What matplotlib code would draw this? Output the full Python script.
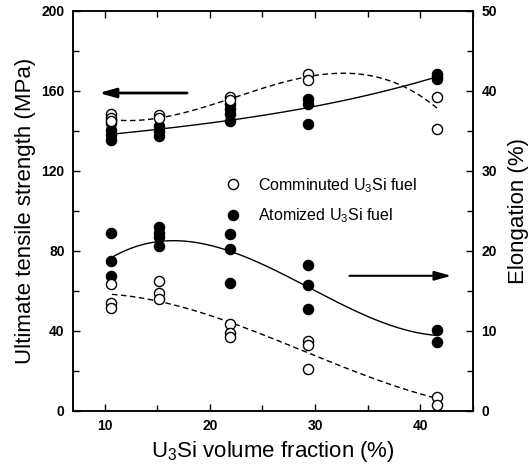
import numpy as np
import matplotlib
matplotlib.use("Agg")
import matplotlib.pyplot as plt
from matplotlib.ticker import MultipleLocator
from matplotlib.lines import Line2D

plt.rcParams['font.family'] = ['Liberation Sans', 'DejaVu Sans']
plt.rcParams['mathtext.default'] = 'regular'

# volume fraction columns (%)
cols = [10.6, 15.2, 21.9, 29.3, 41.6]

# tensile strength (MPa), comminuted (open) / atomized (filled)
uts_comm = [[148.5, 146.5, 145.0], [148.0, 146.5], [157.0, 155.5], [168.5, 165.6], [157.2, 141.2]]
uts_atom = [[144.1, 140.7, 138.2, 135.7], [142.4, 139.9, 137.4], [153.3, 150.8, 148.3, 144.9],
            [155.9, 153.3, 143.6], [168.5, 167.1, 166.0]]

# elongation (%)
el_comm = [[15.9, 13.5, 12.9], [16.2, 14.8, 14.05], [10.9, 9.8, 9.2], [8.8, 8.3, 5.3], [1.7, 0.7]]
el_atom = [[22.3, 18.75, 16.9], [23.0, 22.3, 21.8, 20.6], [22.1, 20.2, 16.0], [18.25, 15.7, 12.8], [10.1, 8.6]]

# trend curves
uts_comm_fit_x = [10.7, 15.3, 22.0, 29.4, 32.4, 38.5, 41.6]
uts_comm_fit_y = [145.8, 146.3, 156.4, 167.1, 169.3, 161.4, 151.7]
uts_atom_fit_x = [10.7, 15.3, 22.0, 29.4, 41.6]
uts_atom_fit_y = [138.2, 141.5, 144.9, 152.0, 167.1]
el_atom_fit_x = [10.7, 16.3, 22.0, 29.4, 36.2, 41.6]
el_atom_fit_y = [19.2, 21.3, 20.0, 15.3, 11.3, 9.4]
el_comm_fit_x = [10.7, 15.3, 22.0, 29.4, 36.2, 41.6]
el_comm_fit_y = [14.4, 14.05, 10.9, 6.9, 4.2, 1.4]


def flat(groups):
    xs, ys = [], []
    for x, g in zip(cols, groups):
        xs += [x] * len(g)
        ys += g
    return xs, ys


def smooth(fx, fy):
    p = np.polyfit(fx, fy, 3)
    xx = np.linspace(fx[0], fx[-1], 200)
    return xx, np.polyval(p, xx)


fig = plt.figure(figsize=(5.32, 4.67), dpi=100)
ax = fig.add_axes([73 / 532, 56 / 467, 400 / 532, 400 / 467])
ax2 = ax.twinx()

ms = 7.3
open_kw = dict(ls='none', marker='o', ms=ms, mfc='white', mec='black', mew=1.0, zorder=5)
fill_kw = dict(ls='none', marker='o', ms=ms, mfc='black', mec='black', mew=1.0, zorder=5)
dash = (0, (4, 2.5))

# tensile strength on left axis
x, y = smooth(uts_comm_fit_x, uts_comm_fit_y)
ax.plot(x, y, color='black', lw=1.0, ls=dash, zorder=3)
x, y = smooth(uts_atom_fit_x, uts_atom_fit_y)
ax.plot(x, y, color='black', lw=1.0, zorder=3)
xs, ys = flat(uts_atom)
ax.plot(xs, ys, **fill_kw)
xs, ys = flat(uts_comm)
ax.plot(xs, ys, **open_kw)

# elongation on right axis
x, y = smooth(el_atom_fit_x, el_atom_fit_y)
ax2.plot(x, y, color='black', lw=1.0, zorder=3)
x, y = smooth(el_comm_fit_x, el_comm_fit_y)
ax2.plot(x, y, color='black', lw=1.0, ls=dash, zorder=3)
xs, ys = flat(el_atom)
ax2.plot(xs, ys, **fill_kw)
xs, ys = flat(el_comm)
ax2.plot(xs, ys, **open_kw)

# arrows
ax.annotate('', xy=(9.2, 159), xytext=(18.1, 159),
            arrowprops=dict(arrowstyle='-|>,head_length=1.0,head_width=0.28', lw=2.0, color='black'))
ax2.annotate('', xy=(43.2, 16.9), xytext=(33.0, 16.9),
             arrowprops=dict(arrowstyle='-|>,head_length=1.0,head_width=0.28', lw=1.5, color='black'))

ax.set_xlim(7, 45)
ax.set_ylim(0, 200)
ax2.set_ylim(0, 50)

ax.xaxis.set_major_locator(MultipleLocator(10))
ax.xaxis.set_minor_locator(MultipleLocator(5))
ax.yaxis.set_major_locator(MultipleLocator(40))
ax.yaxis.set_minor_locator(MultipleLocator(20))
ax2.yaxis.set_major_locator(MultipleLocator(10))
ax2.yaxis.set_minor_locator(MultipleLocator(5))

ax.tick_params(which='both', direction='in', top=True, right=False, labelsize=10, width=1.0, pad=6)
ax.tick_params(which='major', length=5)
ax.tick_params(which='minor', length=4)
ax2.tick_params(which='both', direction='in', labelsize=10, width=1.0, pad=6)
ax2.tick_params(which='major', length=5)
ax2.tick_params(which='minor', length=4)
for lab in ax.get_xticklabels() + ax.get_yticklabels() + ax2.get_yticklabels():
    lab.set_fontweight('bold')

for a in (ax, ax2):
    for s in a.spines.values():
        s.set_linewidth(1.1)

ax.set_xlabel('U$_3$Si volume fraction (%)', fontsize=16, labelpad=4)
ax.set_ylabel('Ultimate tensile strength (MPa)', fontsize=16, labelpad=4)
ax2.set_ylabel('Elongation (%)', fontsize=16, labelpad=8)

handles = [Line2D([], [], ls='none', marker='o', ms=ms, mfc='white', mec='black', mew=1.0),
           Line2D([], [], ls='none', marker='o', ms=ms, mfc='black', mec='black', mew=1.0)]
ax.legend(handles, ['Comminuted U$_3$Si fuel', 'Atomized U$_3$Si fuel'],
          loc='upper left', bbox_to_anchor=(213 / 532, (467 - 168) / 467),
          bbox_transform=fig.transFigure, frameon=False, fontsize=11.5,
          labelspacing=0.75, handletextpad=0.8, handlelength=1.5, borderpad=0)

fig.savefig('out.png', dpi=100)
